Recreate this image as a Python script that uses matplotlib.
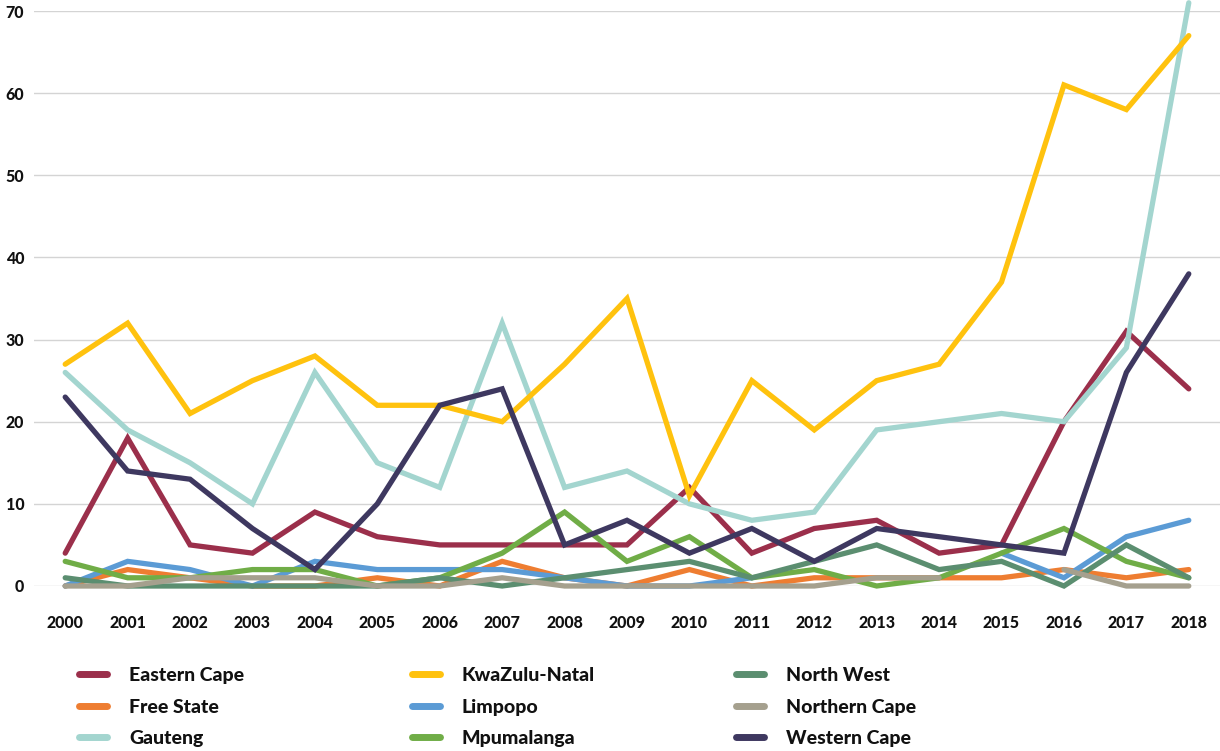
import numpy as np
import matplotlib
matplotlib.use("Agg")
from matplotlib import pyplot as plt

years = list(range(2000, 2019))
nan = np.nan

eastern_cape = [4, 18, 5, 4, 9, 6, 5, 5, 5, 5, 12, 4, 7, 8, 4, 5, 20, 31, 24]
free_state = [0, 2, 1, 0, 0, 1, 0, 3, 1, 0, 2, 0, 1, 1, 1, 1, 2, 1, 2]
gauteng = [26, 19, 15, 10, 26, 15, 12, 32, 12, 14, 10, 8, 9, 19, 20, 21, 20, 29, 71]
kwazulu_natal = [27, 32, 21, 25, 28, 22, 22, 20, 27, 35, 11, 25, 19, 25, 27, 37, 61, 58, 67]
limpopo = [0, 3, 2, 0, 3, 2, 2, 2, 1, 0, 0, 1, nan, nan, nan, 4, 1, 6, 8]
mpumalanga = [3, 1, 1, 2, 2, 0, 1, 4, 9, 3, 6, 1, 2, 0, 1, 4, 7, 3, 1]
north_west = [1, 0, 0, 0, 0, 0, 1, 0, 1, 2, 3, 1, 3, 5, 2, 3, 0, 5, 1]
northern_cape = [0, 0, 1, 1, 1, 0, 0, 1, 0, 0, 0, 0, 0, 1, 1, nan, 2, 0, 0]
western_cape = [23, 14, 13, 7, 2, 10, 22, 24, 5, 8, 4, 7, 3, 7, 6, 5, 4, 26, 38]

names = ["Eastern Cape", "Free State", "Gauteng", "KwaZulu-Natal", "Limpopo",
         "Mpumalanga", "North West", "Northern Cape", "Western Cape"]
series = [eastern_cape, free_state, gauteng, kwazulu_natal, limpopo,
          mpumalanga, north_west, northern_cape, western_cape]
colors = ["#9B2F4B", "#EE7D31", "#A3D5CF", "#FFC20E", "#5B9BD5",
          "#70AD47", "#5B8E70", "#A5A08E", "#3E3860"]

plt.rcParams["font.family"] = ["Lato", "DejaVu Sans"]

fig = plt.figure(figsize=(12.2, 7.51), dpi=100)
ax = fig.add_axes([34 / 1220, 165 / 751, 1186 / 1220, 575 / 751])

lines = []
for name, vals, col in zip(names, series, colors):
    (ln,) = ax.plot(years, vals, color=col, lw=3.8, label=name,
                    solid_capstyle="round", solid_joinstyle="miter",
                    clip_on=False)
    lines.append(ln)

ax.set_xlim(1999.5, 2018.5)
ax.set_ylim(0, 70)
ax.set_xticks(years)
ax.set_yticks(range(0, 71, 10))
ax.grid(axis="y", color="#D4D4D4", lw=1)
ax.set_axisbelow(True)
for s in ax.spines.values():
    s.set_visible(False)
ax.tick_params(axis="both", length=0, labelsize=11.5, colors="#111111")
ax.tick_params(axis="x", pad=21)
ax.tick_params(axis="y", pad=7)
for lab in ax.get_xticklabels() + ax.get_yticklabels():
    lab.set_fontweight(900)

# legend: three columns placed by hand
col_x = [79 / 1220, 412 / 1220, 736 / 1220]
for i in range(3):
    leg = fig.legend(handles=lines[i * 3:(i + 1) * 3], loc="upper left",
                     bbox_to_anchor=(col_x[i], 1 - 667 / 751),
                     frameon=False, borderpad=0, borderaxespad=0,
                     handlelength=1.45, handletextpad=1.12, labelspacing=0.75,
                     prop={"size": 14, "weight": 900})
    for t in leg.get_texts():
        t.set_color("#111111")
    for h in leg.legend_handles:
        h.set_linewidth(5)

fig.savefig("out.png", dpi=100)
